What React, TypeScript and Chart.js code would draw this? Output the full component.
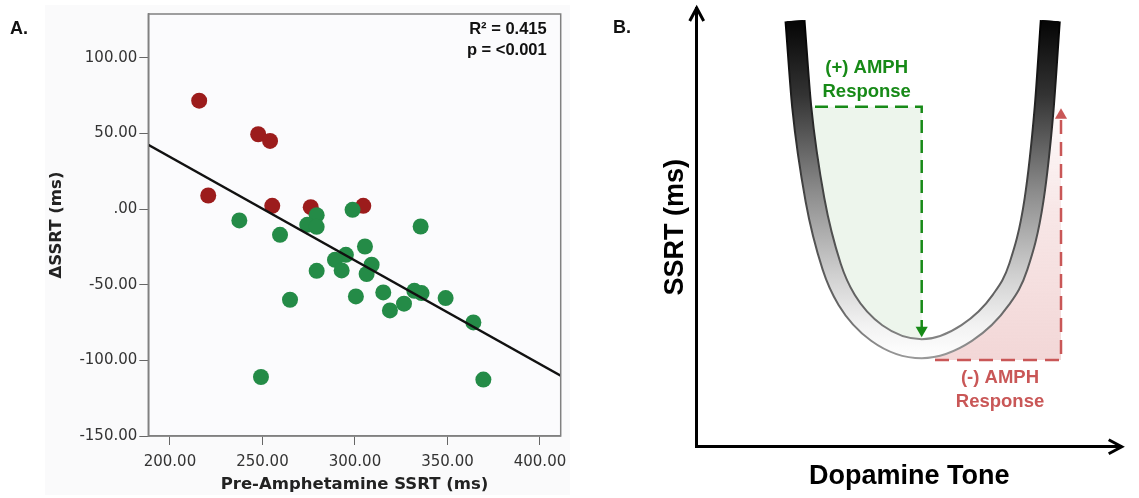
import React, { useEffect, useRef } from 'react';
import { Chart, registerables } from 'chart.js';

Chart.register(...registerables);

// ---------- Panel A data ----------
const redX = [215.8, 247.7, 254.1, 220.7, 255.3, 276.1, 304.5];
const redY = [71.7, 49.5, 45.1, 9.0, 2.2, 1.3, 2.2];
const greenX = [237.5, 259.5, 298.7, 279.3, 274.2, 279.3, 305.4, 295.1, 289.2, 292.8, 309.0, 306.3, 279.3, 264.9, 300.5, 315.3, 318.9, 335.5, 326.5, 332.1, 336.0, 349.0, 364.0, 249.2, 369.4];
const greenY = [-7.5, -17.0, -0.5, -4.0, -10.4, -11.7, -24.7, -30.2, -33.5, -40.5, -36.8, -42.9, -40.8, -59.9, -57.7, -55.1, -67.0, -11.5, -62.5, -54.0, -55.5, -58.8, -74.9, -111.0, -112.7];
const fitX = [188.3, 411.2];
const fitY = [42.5, -110.1];
const xTicksA = [200, 250, 300, 350, 400];
const yTicksA = [-150, -100, -50, 0, 50, 100];
const statsText = ['R\u00B2 = 0.415', 'p = <0.001'];

// ---------- Panel B data (arbitrary units) ----------
const curveX = [98.3, 105, 118.3, 135, 150, 180, 225, 270, 304, 321.6, 337.3, 347.3, 353.6];
const curveY = [426, 340, 246.7, 180, 146.7, 113.7, 98, 113.7, 146.7, 180, 246.7, 336.7, 426];
const greenFillX = [105, 225, 225, 180, 150, 135, 118.3, 105];
const greenFillY = [340, 340, 98, 113.7, 146.7, 180, 246.7, 340];
const redFillX = [238.3, 364.3, 364.3, 347.3, 337.3, 321.6, 304, 270, 238.3];
const redFillY = [86.7, 86.7, 338.4, 336.7, 246.7, 180, 146.7, 113.7, 99.5];
const plusArrowX = [118.3, 225, 225];
const plusArrowY = [340, 340, 116.4];
const minusArrowX = [238.3, 364.3, 364.3];
const minusArrowY = [86.7, 86.7, 331.4];

const GREEN = '#178a17';
const RED = '#c95757';

const pts = (xs: number[], ys: number[]) => xs.map((x, i) => ({ x, y: ys[i] }));

const panelAPlugin = {
  id: 'panelA',
  beforeDraw(chart: any) {
    const { ctx, chartArea: ca } = chart;
    ctx.save();
    ctx.fillStyle = '#fafafb';
    ctx.fillRect(45, 5, chart.width - 50, chart.height - 8);
    ctx.fillStyle = '#fbfbfd';
    ctx.fillRect(ca.left, ca.top, ca.right - ca.left, ca.bottom - ca.top);
    ctx.restore();
  },
  afterDraw(chart: any) {
    const { ctx, chartArea: ca } = chart;
    ctx.save();
    ctx.strokeStyle = '#808080';
    ctx.lineWidth = 1.5;
    ctx.strokeRect(ca.left, ca.top, ca.right - ca.left, ca.bottom - ca.top);
    ctx.fillStyle = '#111';
    ctx.font = 'bold 16.5px "Liberation Sans"';
    ctx.textAlign = 'right';
    ctx.textBaseline = 'middle';
    ctx.fillText(statsText[0], ca.right - 14, ca.top + 15.5);
    ctx.fillText(statsText[1], ca.right - 14, ca.top + 36);
    ctx.textAlign = 'left';
    ctx.font = 'bold 18px "Liberation Sans"';
    ctx.fillText('A.', 10, 29.5);
    ctx.restore();
  },
};

const bLabels = [
  { t: '(+) AMPH', x: 170, y: 378.4, c: GREEN },
  { t: 'Response', x: 170, y: 355, c: GREEN },
  { t: '(-) AMPH', x: 303.3, y: 68.4, c: RED },
  { t: 'Response', x: 303.3, y: 45, c: RED },
];

const panelBPlugin = {
  id: 'panelB',
  afterDraw(chart: any) {
    const { ctx, chartArea: ca, scales } = chart;
    ctx.save();
    ctx.strokeStyle = '#000';
    ctx.lineWidth = 3;
    ctx.lineJoin = 'miter';
    ctx.beginPath();
    ctx.moveTo(ca.left - 7, ca.top + 13);
    ctx.lineTo(ca.left, ca.top);
    ctx.lineTo(ca.left + 7, ca.top + 13);
    ctx.moveTo(ca.right - 13, ca.bottom - 7);
    ctx.lineTo(ca.right, ca.bottom);
    ctx.lineTo(ca.right - 13, ca.bottom + 7);
    ctx.stroke();
    ctx.font = 'bold 18.5px "Liberation Sans"';
    ctx.textAlign = 'center';
    ctx.textBaseline = 'middle';
    bLabels.forEach((l) => {
      ctx.fillStyle = l.c;
      ctx.fillText(l.t, scales.x.getPixelForValue(l.x), scales.y.getPixelForValue(l.y));
    });
    ctx.fillStyle = '#111';
    ctx.textAlign = 'left';
    ctx.font = 'bold 18px "Liberation Sans"';
    ctx.fillText('B.', 38, 28.5);
    ctx.restore();
  },
};

function bandGradient(stops: [number, string][]) {
  return (c: any) => {
    const chart = c.chart;
    if (!chart.chartArea) return stops[0][1];
    const ys = chart.scales.y;
    const g = chart.ctx.createLinearGradient(0, ys.getPixelForValue(426), 0, ys.getPixelForValue(88));
    stops.forEach(([o, col]) => g.addColorStop(o, col));
    return g;
  };
}

function redFillGradient(c: any) {
  const chart = c.chart;
  if (!chart.chartArea) return 'rgba(235,190,190,0.3)';
  const ys = chart.scales.y;
  const g = chart.ctx.createLinearGradient(0, ys.getPixelForValue(86.7), 0, ys.getPixelForValue(338));
  g.addColorStop(0, 'rgba(230,175,175,0.5)');
  g.addColorStop(0.6, 'rgba(230,175,175,0.3)');
  g.addColorStop(1, 'rgba(230,175,175,0.05)');
  return g;
}

function makeA(canvas: HTMLCanvasElement) {
  const fmt = (v: number) => (v === 0 ? '.00' : Number(v).toFixed(2));
  return new Chart(canvas, {
    type: 'scatter',
    data: {
      datasets: [
        {
          label: 'fit',
          data: pts(fitX, fitY),
          showLine: true,
          borderColor: '#111',
          borderWidth: 2.3,
          pointRadius: 0,
          order: 0,
        },
        {
          label: 'green',
          data: pts(greenX, greenY),
          backgroundColor: '#248b47',
          pointBorderWidth: 0,
          pointRadius: 8,
          order: 1,
        },
        {
          label: 'red',
          data: pts(redX, redY),
          backgroundColor: '#9c1c1c',
          pointBorderWidth: 0,
          pointRadius: 8,
          order: 2,
        },
      ],
    } as any,
    options: {
      responsive: false,
      animation: false,
      devicePixelRatio: 1,
      layout: { padding: { left: 0, top: 14, right: 14.3, bottom: 0 } },
      plugins: { legend: { display: false }, tooltip: { enabled: false } },
      scales: {
        x: {
          type: 'linear',
          min: 188.3,
          max: 411.2,
          afterBuildTicks: (s: any) => {
            s.ticks = xTicksA.map((v) => ({ value: v }));
          },
          afterFit: (s: any) => {
            s.height = 62;
          },
          grid: { display: true, drawOnChartArea: false, drawTicks: true, tickLength: 9, color: '#666' },
          border: { display: true, color: '#808080', width: 1.5 },
          ticks: {
            padding: 8,
            color: '#333',
            autoSkip: false,
            maxRotation: 0,
            font: { family: 'DejaVu Sans', size: 15 },
            callback: (v: any) => fmt(v),
          },
          title: {
            display: true,
            text: 'Pre-Amphetamine SSRT (ms)',
            color: '#222',
            font: { family: 'DejaVu Sans', size: 16.5, weight: 'bold' },
            padding: { top: 0, bottom: 3 },
          },
        },
        y: {
          type: 'linear',
          min: -150,
          max: 129,
          afterBuildTicks: (s: any) => {
            s.ticks = yTicksA.map((v) => ({ value: v }));
          },
          afterFit: (s: any) => {
            s.width = 148.3;
          },
          grid: { display: true, drawOnChartArea: false, drawTicks: true, tickLength: 9, color: '#666' },
          border: { display: true, color: '#808080', width: 1.5 },
          ticks: {
            padding: 2,
            color: '#333',
            autoSkip: false,
            font: { family: 'DejaVu Sans', size: 15 },
            callback: (v: any) => fmt(v),
          },
          title: {
            display: true,
            text: '\u0394SSRT (ms)',
            color: '#222',
            font: { family: 'DejaVu Sans', size: 16.5, weight: 'bold' },
            padding: { top: 47, bottom: 0 },
          },
        },
      },
    } as any,
    plugins: [panelAPlugin],
  });
}

function makeB(canvas: HTMLCanvasElement) {
  return new Chart(canvas, {
    type: 'line',
    data: {
      datasets: [
        {
          label: 'plus-region',
          data: pts(greenFillX, greenFillY),
          fill: 'shape',
          backgroundColor: '#edf5ec',
          borderWidth: 0,
          borderColor: 'rgba(0,0,0,0)',
          tension: 0,
          pointRadius: 0,
          order: 6,
        },
        {
          label: 'minus-region',
          data: pts(redFillX, redFillY),
          fill: 'shape',
          backgroundColor: redFillGradient,
          borderWidth: 0,
          borderColor: 'rgba(0,0,0,0)',
          tension: 0,
          pointRadius: 0,
          order: 5,
        },
        {
          label: 'curve-outline',
          data: pts(curveX, curveY),
          borderColor: bandGradient([
            [0, '#000'],
            [0.5, '#444'],
            [0.85, '#666'],
            [1, '#999'],
          ]),
          borderWidth: 21,
          borderCapStyle: 'butt',
          cubicInterpolationMode: 'monotone',
          pointRadius: 0,
          fill: false,
          order: 4,
        },
        {
          label: 'curve',
          data: pts(curveX, curveY),
          borderColor: bandGradient([
            [0, '#050505'],
            [0.22, '#333'],
            [0.5, '#8a8a8a'],
            [0.75, '#cfcfcf'],
            [0.9, '#f2f2f2'],
            [1, '#ffffff'],
          ]),
          borderWidth: 17,
          borderCapStyle: 'butt',
          cubicInterpolationMode: 'monotone',
          pointRadius: 0,
          fill: false,
          order: 3,
        },
        {
          label: 'plus-arrow',
          data: pts(plusArrowX, plusArrowY),
          borderColor: GREEN,
          borderWidth: 2.5,
          borderDash: [13, 7],
          tension: 0,
          fill: false,
          pointStyle: 'triangle',
          pointRadius: [0, 0, 7],
          pointRotation: [0, 0, 180],
          pointBackgroundColor: GREEN,
          pointBorderWidth: 0,
          order: 1,
        },
        {
          label: 'minus-arrow',
          data: pts(minusArrowX, minusArrowY),
          borderColor: RED,
          borderWidth: 2.5,
          borderDash: [14, 8],
          tension: 0,
          fill: false,
          pointStyle: 'triangle',
          pointRadius: [0, 0, 7],
          pointRotation: [0, 0, 0],
          pointBackgroundColor: RED,
          pointBorderWidth: 0,
          order: 2,
        },
      ],
    } as any,
    options: {
      responsive: false,
      animation: false,
      devicePixelRatio: 1,
      layout: { padding: { left: 0, top: 8, right: 17.3, bottom: 0 } },
      plugins: { legend: { display: false }, tooltip: { enabled: false } },
      elements: { point: { hoverRadius: 0 } },
      scales: {
        x: {
          type: 'linear',
          min: 0,
          max: 425,
          ticks: { display: false },
          grid: { display: false, drawTicks: false },
          border: { display: true, color: '#000', width: 3 },
          afterFit: (s: any) => {
            s.height = 51.3;
          },
          title: {
            display: true,
            text: 'Dopamine Tone',
            color: '#000',
            font: { family: 'Liberation Sans', size: 27, weight: 'bold' },
            padding: { top: 0, bottom: 5 },
          },
        },
        y: {
          type: 'linear',
          min: 0,
          max: 438.7,
          ticks: { display: false },
          grid: { display: false, drawTicks: false },
          border: { display: true, color: '#000', width: 3 },
          afterFit: (s: any) => {
            s.width = 121.7;
          },
          title: {
            display: true,
            text: 'SSRT (ms)',
            color: '#000',
            font: { family: 'Liberation Sans', size: 27, weight: 'bold' },
            padding: { top: 84.8, bottom: 0 },
          },
        },
      },
    } as any,
    plugins: [panelBPlugin],
  });
}

export default function App() {
  const refA = useRef<HTMLCanvasElement>(null);
  const refB = useRef<HTMLCanvasElement>(null);
  useEffect(() => {
    const a = makeA(refA.current as HTMLCanvasElement);
    const b = makeB(refB.current as HTMLCanvasElement);
    return () => {
      a.destroy();
      b.destroy();
    };
  }, []);
  return (
    <div style={{ position: 'absolute', left: 0, top: 0, width: 1139, height: 498, background: '#fff' }}>
      <canvas
        ref={refA}
        width={575}
        height={498}
        style={{ position: 'absolute', left: 0, top: 0, width: 575, height: 498 }}
      />
      <canvas
        ref={refB}
        width={564}
        height={498}
        style={{ position: 'absolute', left: 575, top: 0, width: 564, height: 498 }}
      />
    </div>
  );
}
